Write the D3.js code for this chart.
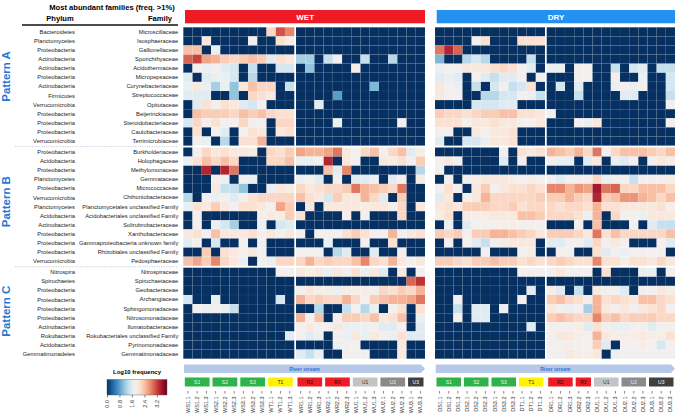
<!DOCTYPE html>
<html>
<head>
<meta charset="utf-8">
<script src="https://cdn.jsdelivr.net/npm/d3@7"></script>
<style>
  body { margin: 0; background: #fff; }
  svg { display: block; font-family: "Liberation Sans", Arial, sans-serif; }
</style>
</head>
<body>
<div id="chart"></div>
<script>
// ---- sample columns ----
var wetColumns = ["WS1.1","WS1.2","WS1.3","WS2.1","WS2.2","WS2.3","WS3.1","WS3.2","WS3.3","WT1.1","WT1.2","WT1.3",
    "WR1.1","WR1.2","WR1.3","WR2.1","WR2.2","WR2.3","WU1.1","WU1.2","WU1.3","WU2.1","WU2.2","WU2.3","WU3.1","WU3.3"];
var dryColumns = ["DS1.1","DS1.2","DS1.3","DS2.1","DS2.2","DS2.3","DS3.1","DS3.2","DS3.3","DT1.1","DT1.2","DT1.3",
    "DR1.1","DR1.2","DR1.3","DR2.2","DR2.3","DU1.1","DU1.2","DU1.3","DU2.1","DU2.2","DU2.3","DU3.1","DU3.2","DU3.3"];
var groupNames = ["S1","S2","S3","T1","R2","R3","U1","U2","U3"];
var wetGroupSizes = [3,3,3,3,3,3,3,3,2];
var dryGroupSizes = [3,3,3,3,3,2,3,3,3];

// ---- rows ----
var patternNames = ["Pattern A","Pattern B","Pattern C"];
var phylaA = ["Bacteroidetes","Planctomycetes","Proteobacteria","Actinobacteria","Actinobacteria","Proteobacteria",
    "Actinobacteria","Firmicutes","Verrucomicrobia","Proteobacteria","Proteobacteria","Proteobacteria","Verrucomicrobia"];
var familiesA = ["Microscillaceae","Isosphaeraceae","Gallionellaceae","Sporichthyaceae","Acidothermaceae","Micropepsaceae",
    "Corynebacteriaceae","Streptococcaceae","Opitutaceae","Beijerinckiaceae","Steroidobacteriaceae","Caulobacteraceae","Terrimicrobiaceae"];
var phylaB = ["Proteobacteria","Acidobacteria","Proteobacteria","Planctomycetes","Proteobacteria","Verrucomicrobia",
    "Planctomycetes","Acidobacteria","Actinobacteria","Proteobacteria","Proteobacteria","Proteobacteria","Verrucomicrobia"];
var familiesB = ["Burkholderiaceae","Holophagaceae","Methylomonaceae","Gemmataceae","Micrococcaceae","Chthoniobacteraceae",
    "Planctomycetales unclassified Family","Acidobacteriales unclassified Family","Solirubrobacteraceae","Xanthobacteraceae",
    "Gammaproteobacteria unknown family","Rhizobiales unclassified Family","Pedosphaeraceae"];
var phylaC = ["Nitrospira","Spirochaetes","Proteobacteria","Proteobacteria","Proteobacteria","Proteobacteria",
    "Actinobacteria","Rokubacteria","Acidobacteria","Gemmatimonadetes"];
var familiesC = ["Nitrospiraceae","Spirochaetaceae","Geobacteraceae","Archangiaceae","Sphingomonadaceae","Nitrosomonadaceae",
    "Ilumatobacteraceae","Rokubacteriales unclassified Family","Pyrinomonadaceae","Gemmatimonadaceae"];

// ---- log10 frequency values (rows x 26 samples) ----
var wetA = [
    [0,0,0,0,0,0,0,0,0,2.2,3.1,2.8, 0,0,0,0,0,0,0,0,0,0,0,0,0,0],
    [0,0,2.0,0,0,0,0,1.8,0,0,2.1,1.9, 0,0,0,0,0,0,0,0,0,0,0,0,0,0],
    [2.4,2.4,0,1.7,0,0,0,0,0,0,0,0, 0,0,0,0,0,0,0,0,0,0,0,0,0,0],
    [3.0,3.2,2.6,2.5,2.3,2.2,2.3,2.4,2.3,1.6,2.1,2.0, 1.2,1.2,0,1.4,1.8,0,0,1.4,0,0,1.3,0,0,0],
    [0,1.8,1.7,1.8,1.6,1.5,0,1.4,0,0,1.5,1.5, 0,1.1,0,0,0,0,1.9,0,0,0,0,0,0,0],
    [1.6,0,1.6,1.7,1.7,1.5,0,1.3,0,0,0,0, 0,0,0,0,0,0,0,0,0,0,0,0,0,0],
    [1.7,2.0,1.7,1.2,1.7,1.1,2.0,2.4,2.2,2.2,0,1.4, 0,0,0,0,0,0,0,0,1.0,0,0,0,0,0],
    [1.6,1.6,1.6,0,0,1.1,0,2.2,2.1,2.0,0,0, 0,0,0,0,0.8,0,0,0,0,0,0,0,0,0],
    [0,1.6,2.1,1.8,2.1,2.0,1.6,1.5,1.8,0,0,0, 0,0,1.6,0,0,0,0,0,0,0,0,0,0,0],
    [0,2.4,2.3,2.3,2.3,2.2,2.4,2.3,2.4,2.2,2.1,2.1, 0,0,0,0,0,0,0,0,0,0,0,0,0,0],
    [1.5,2.2,1.8,2.1,1.8,1.8,2.2,1.8,1.8,0,2.2,2.2, 0,0,0,0,1.7,0,0,0,0,0,0,1.8,0,0],
    [0,2.1,0,1.8,1.6,0,1.8,2.1,2.0,0,2.0,2.1, 0,0,0,0,0,0,0,0,0,0,0,0,0,0],
    [0,1.8,1.7,0,1.3,0,2.1,2.1,2.5,0,0,0, 0,0,0,0,0,0,0,0,0,0,0,0,0,0]
];
var wetB = [
    [0,1.8,2.2,2.0,2.1,2.0,2.0,1.9,0,2.2,2.1,2.3, 2.6,2.5,2.5,2.6,2.9,2.0,1.8,2.2,2.4,1.8,2.2,2.4,1.6,1.9],
    [1.7,2.1,2.4,2.2,2.4,2.2,0,0,0,2.2,2.2,2.4, 1.7,1.7,1.8,3.4,0,2.0,1.8,0,0,2.0,1.9,2.1,1.8,2.3],
    [0,0,3.4,0,3.4,2.9,0,0,0,0,0,0, 0,0,0,2.4,1.6,2.8,0,0,0,0,0,0,0,1.3],
    [0,0,0,1.9,1.7,0,1.8,1.7,0,0,0,0, 1.7,1.8,1.6,0,1.8,0,1.6,1.6,1.7,0,1.6,1.8,0,1.9],
    [0,0,0,2.0,1.4,1.4,1.1,0,0,1.7,2.0,1.9, 2.2,2.0,2.1,2.2,2.2,2.3,2.9,2.5,2.4,2.3,2.2,2.9,0,0],
    [1.3,0,1.8,1.7,1.8,1.6,1.8,2.1,2.2,2.2,2.2,2.2, 2.4,2.1,2.0,1.5,2.3,2.0,2.0,2.5,2.2,1.6,0,2.3,0,0],
    [1.7,2.1,2.0,2.3,2.0,1.8,2.1,2.1,2.0,1.8,2.6,2.3, 0,2.0,0,2.0,2.0,2.0,2.0,1.9,2.0,2.0,1.8,2.2,0,2.0],
    [0,1.8,0,0,0,0,0,0,1.8,2.0,1.9,2.3, 2.1,0,0,0,0,1.8,0,1.8,0,0,0,2.2,0,0],
    [0,1.8,0,1.7,1.5,1.2,0,0,1.7,0,1.5,1.6, 0,0,0,0,0,0,0,0,0,0,0,0,0,0],
    [2.0,2.1,1.8,2.4,2.0,2.0,2.0,2.1,1.8,2.0,1.8,2.0, 1.8,0,1.8,1.8,1.8,2.1,2.3,2.1,1.8,1.8,2.5,1.8,2.0,2.1],
    [1.6,1.8,0,1.5,0,0,1.8,0,1.8,0,0,0, 0,0,0,1.7,0,0,0,1.8,0,0,2.1,0,0,0],
    [0,0,2.3,0,2.1,2.0,1.8,2.0,1.8,0,0,0, 1.8,1.8,1.8,0,1.3,1.6,0,0,1.6,0,0,1.8,0,0],
    [2.4,2.6,2.3,2.8,2.2,2.0,1.7,0,1.8,1.7,2.2,2.2, 2.2,2.5,2.2,2.3,2.2,2.2,2.4,2.8,2.2,2.1,2.5,2.0,1.8,2.0]
];
var wetC = [
    [0,0,0,0,0,0,0,0,0,0,1.8,1.8, 2.0,1.9,2.0,1.7,2.0,1.8,2.1,1.7,2.0,1.6,0,2.0,0,1.8],
    [0,0,0,0,0,0,0,0,0,0,0,0, 0,0,0,0,0,0,0,0,0,0,0,0,3.0,3.3],
    [0,0,0,0,0,0,0,0,0,0,0,0, 1.8,2.0,1.9,1.9,1.7,1.9,1.9,1.9,1.8,2.2,2.1,2.3,2.2,2.5],
    [1.5,0,0,1.7,0,0,0,0,0,0,1.5,0, 2.5,2.2,2.3,2.2,2.2,2.5,2.2,1.8,2.3,2.4,2.5,2.5,2.6,2.9],
    [0,1.8,1.7,1.8,1.7,1.4,0,0,0,0,0,0, 0,0,1.3,0,0,1.4,1.8,1.3,1.7,0,1.8,2.1,0,2.1],
    [0,0,0,0,0,0,0,0,0,0,0,0, 2.5,1.8,2.4,0,1.8,2.3,2.3,2.2,2.4,2.0,2.1,2.4,0,1.7],
    [0,0,0,0,0,0,0,0,0,0,0,0, 1.8,2.0,1.8,1.8,2.0,1.7,1.7,1.7,1.8,1.6,1.6,1.8,0,1.6],
    [0,0,0,0,0,0,0,0,0,0,0,1.6, 1.8,1.6,1.7,0,1.8,1.7,2.0,1.7,2.0,1.8,1.7,2.1,1.6,1.6],
    [0,0,0,0,0,0,0,0,0,0,0,0, 0,0,0,0,1.7,1.8,1.8,0,0,0,0,2.0,0,0],
    [0,0,0,0,0,0,0,0,0,0,0,0, 1.6,1.4,1.7,0,0,1.8,1.8,1.8,0,0,0,2.0,0,0]
];
var dryA = [
    [0,0,0,0,0,0,0,0,0,0,0,0, 0,0,0,0,0,0,0,0,0,0,0,0,0,0],
    [0,0,0,0,1.8,2.1,0,0,0,2.1,2.1,2.1, 0,0,0,0,0,0,0,0,0,0,0,0,0,0],
    [2.9,3.4,3.0,0,0,0,0,0,0,0,0,0, 0,0,0,0,0,0,0,0,0,0,0,0,0,0],
    [1.0,0,0,1.3,1.5,1.3,0,0,0,0,1.4,0, 0,0,0,0,0,0,0,0,0,0,0,0,0,0],
    [1.7,1.8,1.8,2.0,2.0,2.0,2.1,2.2,2.1,1.8,1.6,0, 1.7,1.7,0,1.8,1.8,0,0,1.4,0,1.5,1.6,0,1.4,1.4],
    [1.6,1.7,1.6,0,1.8,1.6,1.4,1.6,1.6,1.8,0,1.8, 0,0,0,1.8,1.8,0,0,1.9,0,0,1.7,0,0,1.5],
    [2.0,1.8,1.7,0,1.4,0,1.5,1.8,1.4,1.5,2.1,0, 0,1.5,0,1.6,0,0,0,1.7,1.8,1.7,1.8,0,0,1.5],
    [2.0,1.8,1.8,0,0,1.3,1.3,1.5,1.5,1.8,1.7,1.4, 0,0,0,1.4,0,0,0,0,1.6,1.6,0,0,0,1.4],
    [0,0,0,0,1.5,1.5,1.5,1.6,1.6,0,0,0, 0,0,0,0,0,0,0,0,0,0,0,0,0,1.8],
    [2.3,2.2,2.2,2.1,2.2,2.3,2.3,2.4,2.4,2.1,2.1,2.0, 1.8,0,0,0,0,0,0,0,0,0,0,0,0,0],
    [2.1,2.1,2.1,1.8,2.0,2.0,2.1,2.0,2.0,1.8,1.8,2.0, 0,0,0,1.8,1.7,2.0,0,0,0,0,0,0,0,1.8],
    [1.8,1.8,0,0,2.0,1.8,2.0,2.0,2.1,0,0,0, 0,0,0,0,0,0,0,0,0,0,0,0,0,0],
    [1.6,0,0,1.5,1.5,1.7,2.0,2.0,2.1,0,0,0, 0,0,0,0,0,0,0,0,0,0,0,0,0,0]
];
var dryB = [
    [0,0,0,0,0,0,0,1.8,0,2.1,2.0,2.1, 2.5,2.4,2.3,2.5,2.2,2.9,1.8,2.2,2.4,2.4,2.4,2.3,2.2,2.4],
    [1.8,2.0,1.8,0,0,0,0,1.6,0,1.8,0,0, 1.8,1.7,1.7,0,1.6,2.0,0,1.7,1.6,1.8,0,1.8,2.0,1.9],
    [1.8,0,0,0,0,0,0,0,0,0,0,0, 0,0,0,0,0,0,0,0,0,0,0,0,0,0],
    [0,1.8,0,1.8,1.9,2.0,2.0,2.0,1.9,1.8,1.9,1.8, 1.8,1.6,1.8,1.8,1.8,2.2,1.7,1.8,1.8,1.4,1.8,1.8,1.8,1.9],
    [1.8,2.1,1.8,0,2.0,2.3,1.8,2.0,2.1,2.1,2.2,2.1, 2.8,2.8,2.5,2.7,2.6,3.5,2.9,3.0,2.2,2.2,2.4,2.4,2.4,2.2],
    [1.6,2.0,0,1.8,2.0,2.5,2.2,2.2,2.2,2.2,2.2,2.3, 2.3,2.3,2.5,2.3,2.2,3.4,2.3,2.4,2.7,2.7,2.5,2.4,2.2,2.4],
    [2.0,2.1,2.0,2.3,2.3,2.3,2.2,2.2,2.3,2.1,2.2,2.2, 2.2,2.1,2.2,2.2,2.1,2.5,2.1,2.1,2.0,2.0,2.0,2.0,2.1,1.9],
    [1.9,2.1,0,1.9,1.9,1.9,2.0,2.0,2.0,2.4,2.4,2.3, 2.2,2.2,2.2,2.1,1.7,2.5,0,2.2,1.8,1.8,1.7,2.0,2.0,2.0],
    [0,1.7,0,1.6,1.8,1.8,1.8,1.9,1.9,1.8,1.8,1.8, 0,0,0,1.8,0,2.4,0,0,0,1.8,0,1.6,1.4,1.4],
    [2.3,2.2,2.3,1.8,2.3,2.3,2.5,2.5,2.4,2.3,2.2,2.0, 2.3,2.3,2.3,2.2,2.0,2.9,2.1,2.4,2.2,2.2,2.2,2.2,2.2,2.4],
    [0,1.8,0,1.8,1.6,1.4,1.8,1.9,2.0,2.0,2.0,0, 1.6,1.6,1.8,1.8,1.6,2.2,1.8,2.0,1.8,0,0,0,1.8,1.6],
    [0,0,0,0,0,1.8,0,0,0,1.8,1.9,0, 0,1.8,1.8,0,0,2.1,1.6,1.8,1.7,1.8,1.8,1.8,1.8,0],
    [2.3,2.3,2.2,2.1,2.3,2.3,2.4,2.3,2.3,2.1,2.2,2.1, 2.2,2.3,2.2,2.1,2.1,2.8,2.1,2.1,1.9,2.1,2.1,2.0,2.2,2.0]
];
var dryC = [
    [0,0,0,0,0,0,0,0,0,1.8,1.8,1.8, 1.8,2.0,1.8,1.8,1.8,0,2.1,0,0,0,1.7,1.7,0,1.8],
    [0,0,0,0,0,0,0,0,0,0,0,0, 0,0,0,0,0,0,0,0,0,0,0,0,0,0],
    [0,0,0,0,0,0,0,0,0,0,1.6,0, 1.9,1.6,0,1.4,0,2.0,1.8,1.8,1.6,0,1.8,1.8,2.0,1.9],
    [0,0,1.8,0,0,0,0,0,0,1.8,0,0, 2.3,2.4,2.2,2.1,1.9,2.5,2.1,2.2,2.1,2.0,2.4,2.4,2.2,2.1],
    [0,0,1.4,0,1.6,1.6,0,1.7,0,0,0,0, 2.0,1.8,1.7,1.8,1.2,2.5,2.0,1.8,2.0,1.8,2.0,2.1,2.2,1.8],
    [0,0,1.8,0,1.6,1.6,0,0,0,0,0,0, 2.3,2.4,2.3,2.2,2.2,2.8,2.3,2.4,2.2,2.3,2.3,2.3,2.2,2.2],
    [0,0,0,0,0,0,0,0,0,0,1.6,0, 1.8,1.8,1.8,1.9,1.6,2.1,1.8,1.7,1.7,1.8,1.8,1.6,1.8,1.8],
    [0,0,0,0,0,0,0,0,0,0,0,0, 1.8,2.0,2.0,1.9,1.8,2.5,2.0,1.9,1.9,1.9,2.0,1.9,1.9,2.1],
    [0,0,0,0,0,0,0,0,0,0,0,0, 1.8,1.8,1.9,1.8,1.8,2.3,1.6,0,1.8,1.8,1.9,1.8,1.5,1.8],
    [0,0,0,0,0,0,0,0,0,0,0,0, 1.8,1.8,2.0,1.9,1.8,2.0,0,1.7,1.8,1.8,1.8,1.8,1.8,1.8]
];
var legendTicks = [0.0, 0.8, 1.6, 2.4, 3.2];

(function () {
    // ---- layout ----
    var width = 676, height = 416;
    var rowH = 9.1, patternGap = 1.9, heatTop = 27.3;
    var splitAt = 12;            // samples left of the white divider
    var font = "'Liberation Sans', Arial, sans-serif";
    var groupColours = {S1: "#2eb34b", S2: "#2eb34b", S3: "#2eb34b", T1: "#fff200", R2: "#ed1c24", R3: "#ed1c24",
        U1: "#c3c3c3", U2: "#8a8a8a", U3: "#3f3f3f"};
    var groupText = {S1: "#e8f7e8", S2: "#e8f7e8", S3: "#e8f7e8", T1: "#222", R2: "#3a0000", R3: "#3a0000",
        U1: "#333", U2: "#eee", U3: "#fff"};

    var patterns = [
        {name: patternNames[0], phyla: phylaA, families: familiesA, wet: wetA, dry: dryA, shift: -10},
        {name: patternNames[1], phyla: phylaB, families: familiesB, wet: wetB, dry: dryB, shift: -5},
        {name: patternNames[2], phyla: phylaC, families: familiesC, wet: wetC, dry: dryC, shift: -2}
    ];
    var panels = [
        {name: "WET", key: "wet", cols: wetColumns, sizes: wetGroupSizes, x0: 183.3, xs: 294.3, x1: 425, bar: "#ed1c24", arrow: [184, 425]},
        {name: "DRY", key: "dry", cols: dryColumns, sizes: dryGroupSizes, x0: 435, xs: 545, x1: 675, bar: "#2491f2", arrow: [435.7, 675]}
    ];

    var color = d3.scaleDiverging([0, 1.8, 3.85], function (t) { return d3.interpolateRdBu(1 - t); });

    var svg = d3.select("#chart").append("svg")
        .attr("width", width)
        .attr("height", height);

    // y bands per pattern
    var yCursor = heatTop;
    patterns.forEach(function (p) {
        p.y = d3.scaleBand().domain(p.families).range([yCursor, yCursor + p.families.length * rowH]);
        yCursor += p.families.length * rowH + patternGap;
    });

    // ---- left header ----
    svg.append("text").attr("x", 112).attr("y", 9.5).attr("text-anchor", "middle")
        .style("font-size", "7.6px").style("font-weight", "bold").text("Most abundant families (freq. >1%)");
    svg.append("text").attr("x", 60).attr("y", 20.5).attr("text-anchor", "middle")
        .style("font-size", "7.6px").style("font-weight", "bold").text("Phylum");
    svg.append("text").attr("x", 160).attr("y", 20.5).attr("text-anchor", "middle")
        .style("font-size", "7.6px").style("font-weight", "bold").text("Family");
    svg.append("line").attr("x1", 22).attr("x2", 178).attr("y1", 25).attr("y2", 25)
        .attr("stroke", "#111").attr("stroke-width", 1.3);

    // ---- row labels ----
    patterns.forEach(function (p, pi) {
        var g = svg.append("g");
        // family names via the axis
        g.append("g").attr("transform", "translate(183.3,0)")
            .call(d3.axisLeft(p.y).tickSize(0).tickPadding(5))
            .call(function (a) { a.select(".domain").remove(); })
            .selectAll("text").style("font-size", "5.8px").attr("fill", "#222")
            .style("font-family", font);
        g.selectAll("text.phylum").data(p.families).enter().append("text")
            .attr("class", "phylum")
            .attr("x", 75)
            .attr("y", function (d) { return p.y(d) + p.y.bandwidth() / 2; })
            .attr("dy", "0.35em")
            .attr("text-anchor", "end")
            .style("font-size", "5.8px").attr("fill", "#222")
            .text(function (d, i) { return p.phyla[i]; });
        var r = p.y.range();
        svg.append("text")
            .attr("transform", "translate(10," + ((r[0] + r[1]) / 2 + p.shift) + ") rotate(-90)")
            .attr("text-anchor", "middle")
            .style("font-size", "11.5px").style("font-weight", "bold").attr("fill", "#1f78d4")
            .text(p.name);
        if (pi > 0) {
            var yy = r[0] - patternGap / 2;
            svg.append("line").attr("x1", 15).attr("x2", 178).attr("y1", yy).attr("y2", yy)
                .attr("stroke", "#9fb3cc").attr("stroke-width", 0.6).attr("stroke-dasharray", "1.2,1.2");
        }
    });

    // ---- heatmaps ----
    panels.forEach(function (pn) {
        var xL = d3.scaleBand().domain(pn.cols.slice(0, splitAt)).range([pn.x0, pn.xs]);
        var xR = d3.scaleBand().domain(pn.cols.slice(splitAt)).range([pn.xs + 1.7, pn.x1]);
        var xOf = function (c) { return xL.domain().indexOf(c) >= 0 ? xL(c) : xR(c); };
        var bw = function (c) { return xL.domain().indexOf(c) >= 0 ? xL.bandwidth() : xR.bandwidth(); };

        // title bar
        svg.append("rect").attr("x", pn.x0 + 1.7).attr("y", 10).attr("width", pn.x1 - pn.x0 - 1.7).attr("height", 13.3)
            .attr("fill", pn.bar);
        svg.append("text").attr("x", (pn.x0 + pn.x1) / 2 + 1).attr("y", 16.8).attr("dy", "0.35em")
            .attr("text-anchor", "middle").attr("fill", "#fff")
            .style("font-size", "8px").style("font-weight", "bold").text(pn.name);

        // cells
        patterns.forEach(function (p) {
            var cells = [];
            p[pn.key].forEach(function (row, ri) {
                row.forEach(function (v, ci) {
                    cells.push({fam: p.families[ri], col: pn.cols[ci], v: v});
                });
            });
            svg.append("g").selectAll("rect").data(cells).enter().append("rect")
                .attr("x", function (d) { return xOf(d.col); })
                .attr("y", function (d) { return p.y(d.fam); })
                .attr("width", function (d) { return bw(d.col); })
                .attr("height", p.y.bandwidth())
                .attr("fill", function (d) { return color(d.v); })
                .attr("stroke", "rgba(255,255,255,0.12)")
                .attr("stroke-width", 0.35);
        });

        // river stream arrow
        var a0 = pn.arrow[0], a1 = pn.arrow[1], ay = 364.5, ah = 8.6;
        svg.append("path")
            .attr("d", "M" + a0 + "," + ay + "H" + (a1 - 4) + "L" + a1 + "," + (ay + ah / 2) +
                "L" + (a1 - 4) + "," + (ay + ah) + "H" + a0 + "Z")
            .attr("fill", "#b5c8e8");
        svg.append("text").attr("x", (a0 + a1) / 2).attr("y", ay + ah / 2).attr("dy", "0.35em")
            .attr("text-anchor", "middle").attr("fill", "#2f72d6")
            .style("font-size", "5px").style("font-weight", "bold").text("River stream");

        // site groups
        var start = 0;
        groupNames.forEach(function (gName, gi) {
            var n = pn.sizes[gi];
            var first = pn.cols[start], last = pn.cols[start + n - 1];
            var gx0 = xOf(first) + 1.5, gx1 = xOf(last) + bw(last) - 1.5;
            svg.append("rect").attr("x", gx0).attr("y", 377.5).attr("width", gx1 - gx0).attr("height", 9)
                .attr("fill", groupColours[gName]);
            svg.append("text").attr("x", (gx0 + gx1) / 2).attr("y", 382).attr("dy", "0.35em")
                .attr("text-anchor", "middle").attr("fill", groupText[gName])
                .style("font-size", "5px").text(gName);
            start += n;
        });

        // sample axis
        [xL, xR].forEach(function (sc) {
            svg.append("g").attr("transform", "translate(0,391)")
                .call(d3.axisBottom(sc).tickSize(2.6).tickPadding(0))
                .call(function (a) {
                    a.select(".domain").remove();
                    a.selectAll("line").attr("stroke", "#333").attr("stroke-width", 0.6);
                    a.selectAll("text")
                        .attr("transform", "rotate(-90)")
                        .attr("x", -5.5).attr("y", 0).attr("dy", "0.35em")
                        .attr("text-anchor", "end")
                        .attr("fill", "#333")
                        .style("font-size", "5.5px")
                        .style("font-family", font);
                });
        });
    });

    // ---- colour legend ----
    var lx = d3.scaleLinear().domain([0, 3.85]).range([107, 167]);
    var grad = svg.append("defs").append("linearGradient").attr("id", "lg");
    d3.range(0, 1.0001, 0.05).forEach(function (t) {
        grad.append("stop").attr("offset", (t * 100) + "%").attr("stop-color", color(t * 3.85));
    });
    svg.append("text").attr("x", 137).attr("y", 373.5).attr("text-anchor", "middle")
        .style("font-size", "6px").style("font-weight", "bold").text("Log10 frequency");
    svg.append("rect").attr("x", 107).attr("y", 379.5).attr("width", 60).attr("height", 15.5)
        .attr("fill", "url(#lg)").attr("stroke", "#555").attr("stroke-width", 0.4);
    svg.append("g").attr("transform", "translate(0,395)")
        .call(d3.axisBottom(lx).tickValues(legendTicks).tickFormat(d3.format(".1f")).tickSize(2.5).tickPadding(0))
        .call(function (a) {
            a.select(".domain").remove();
            a.selectAll("line").attr("stroke", "#333").attr("stroke-width", 0.6);
            a.selectAll("text")
                .attr("transform", "rotate(-90)")
                .attr("x", -5).attr("y", 0).attr("dy", "0.35em")
                .attr("text-anchor", "end").attr("fill", "#333")
                .style("font-size", "5.5px")
                .style("font-family", font);
        });
})();
</script>
</body>
</html>
